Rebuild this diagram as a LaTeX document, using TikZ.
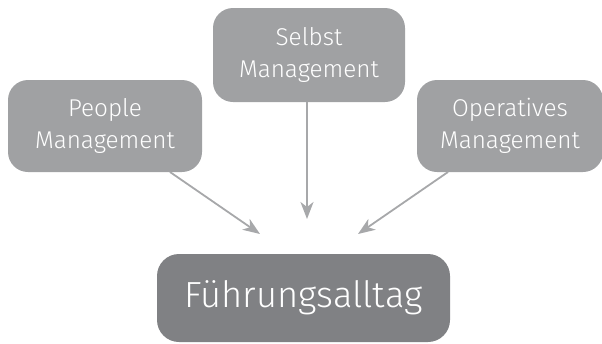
\documentclass[tikz,border=0pt]{standalone}
\usepackage{fontspec}
\setmainfont{Fira Sans Light}
\usetikzlibrary{arrows.meta}
\definecolor{boxgray}{HTML}{A0A1A3}
\definecolor{darkgray}{HTML}{808184}
\definecolor{arrowgray}{HTML}{A7A8AA}
\begin{document}
\begin{tikzpicture}[x=1pt,y=-1pt,
  smallbox/.style={fill=boxgray, rounded corners=20pt, text=white, align=center,
    font=\fontsize{24.3}{32}\selectfont, inner sep=0pt},
  bigbox/.style={fill=darkgray, rounded corners=22pt, text=white,
    font=\fontsize{36.3}{40}\selectfont, inner sep=0pt},
  conn/.style={draw=arrowgray, line width=1.8pt, -{Stealth[length=17pt,width=13pt,inset=5pt]}}]
\useasboundingbox (0,0) rectangle (602,343);
\node[smallbox, minimum width=194pt, minimum height=92pt] (people) at (105,126) {People\\Management};
\node[smallbox, minimum width=192pt, minimum height=94pt] (selbst) at (309,55) {Selbst\\Management};
\node[smallbox, minimum width=186pt, minimum height=92pt] (oper) at (510,126) {Operatives\\Management};
\node[bigbox, minimum width=293pt, minimum height=88pt] (fa) at (303.5,298) {Führungsalltag};
\coordinate (tl) at (260,234);
\coordinate (tm) at (307,219);
\coordinate (tr) at (358,234);
\draw[conn] (170,172) -- (tl);
\draw[conn] (selbst.south -| tm) -- (tm);
\draw[conn] (448,172) -- (tr);
\end{tikzpicture}
\end{document}
